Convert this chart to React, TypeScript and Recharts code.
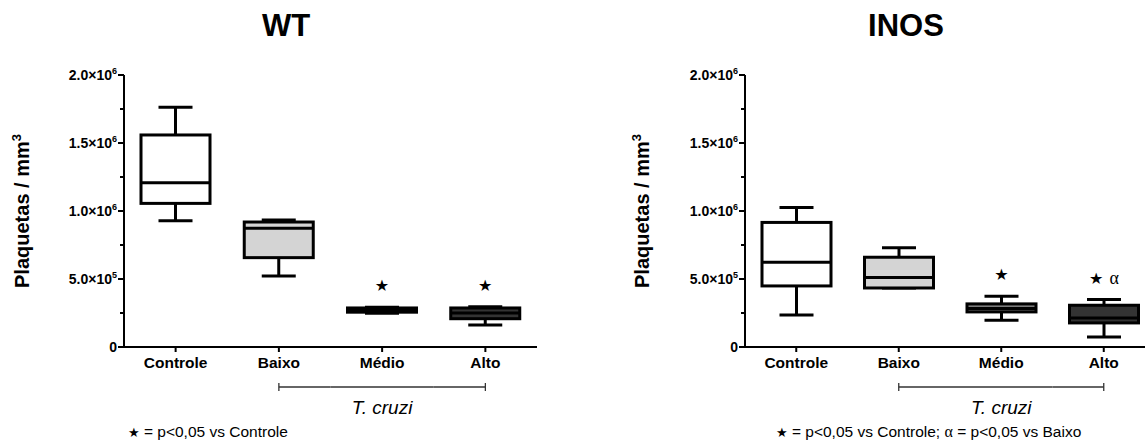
import { ComposedChart, Bar, XAxis, YAxis } from "recharts";

// Platelet counts per group, box plot summary (min, Q1, median, Q3, max)
const GROUPS = ["Controle", "Baixo", "Médio", "Alto"];
const BOX_FILLS = ["#ffffff", "#d4d4d4", "#7a7a7a", "#333333"];

const WT_MIN = [929000, 522000, 248000, 162000];
const WT_Q1 = [1056000, 657000, 256000, 208000];
const WT_MEDIAN = [1208000, 873000, 270000, 250000];
const WT_Q3 = [1559000, 919000, 287000, 287000];
const WT_MAX = [1763000, 934000, 292000, 296000];
const WT_MARKS = ["", "", "★", "★"];

const INOS_MIN = [236000, 434000, 196000, 74000];
const INOS_Q1 = [449000, 434000, 258000, 177000];
const INOS_MEDIAN = [623000, 511000, 283000, 213000];
const INOS_Q3 = [916000, 660000, 317000, 307000];
const INOS_MAX = [1026000, 729000, 373000, 349000];
const INOS_MARKS = ["", "", "★", "★ α"];

const Y_TICKS = [0, 250000, 500000, 750000, 1000000, 1250000, 1500000, 1750000, 2000000];
// [mantissa, exponent] for labelled ticks, null for minor ticks
const Y_TICK_LABELS: ([string, string] | null)[] = [
  ["0", ""], null, ["5.0×10", "5"], null, ["1.0×10", "6"], null, ["1.5×10", "6"], null, ["2.0×10", "6"],
];

const FONT = "'Liberation Sans', Arial, sans-serif";
const CHART_W = 560;
const CHART_H = 448;
const MARGIN_TOP = 75;
const X_AXIS_H = 30;
const MARGIN_BOTTOM = 71;

type Row = {
  group: string; min: number; q1: number; median: number; q3: number; max: number;
  fill: string; mark: string;
};

function buildRows(min: number[], q1: number[], med: number[], q3: number[], max: number[], marks: string[]): Row[] {
  return GROUPS.map((g, i) => ({
    group: g, min: min[i], q1: q1[i], median: med[i], q3: q3[i], max: max[i],
    fill: BOX_FILLS[i], mark: marks[i],
  }));
}

const wtRows = buildRows(WT_MIN, WT_Q1, WT_MEDIAN, WT_Q3, WT_MAX, WT_MARKS);
const inosRows = buildRows(INOS_MIN, INOS_Q1, INOS_MEDIAN, INOS_Q3, INOS_MAX, INOS_MARKS);

function BoxShape(props: any) {
  const { x, y, width, height, payload } = props;
  const top = Math.min(y, y + height);
  const h = Math.abs(height);
  const span = payload.max - payload.min || 1;
  const py = (v: number) => top + (h * (payload.max - v)) / span;
  const cx = x + width / 2;
  const cap = 17;
  const sw = 3;
  const yMax = py(payload.max);
  const yMin = py(payload.min);
  const yQ1 = py(payload.q1);
  const yQ3 = py(payload.q3);
  const yMed = py(payload.median);
  return (
    <g>
      <line x1={cx} x2={cx} y1={yMax} y2={yQ3} stroke="#000" strokeWidth={sw} />
      <line x1={cx} x2={cx} y1={yQ1} y2={yMin} stroke="#000" strokeWidth={sw} />
      <line x1={cx - cap} x2={cx + cap} y1={yMax} y2={yMax} stroke="#000" strokeWidth={sw} />
      <line x1={cx - cap} x2={cx + cap} y1={yMin} y2={yMin} stroke="#000" strokeWidth={sw} />
      <rect x={x} y={yQ3} width={width} height={yQ1 - yQ3} fill={payload.fill} stroke="#000" strokeWidth={sw} />
      <line x1={x} x2={x + width} y1={yMed} y2={yMed} stroke="#000" strokeWidth={sw} />
      {payload.mark && (
        <text x={cx} y={yMax - 22} textAnchor="middle" dominantBaseline="central" fontSize={16}>
          {payload.mark.split(" ").map((m: string, i: number) =>
            m === "α" ? (
              <tspan key={i} dx={6} fontFamily="'Liberation Serif', serif" fontSize={18}>{m}</tspan>
            ) : (
              <tspan key={i} fontFamily="'DejaVu Sans', sans-serif">{m}</tspan>
            )
          )}
        </text>
      )}
    </g>
  );
}

function ValueTick(props: any) {
  const { x, y, index } = props;
  const label = Y_TICK_LABELS[index];
  return (
    <g>
      <line x1={x - (label ? 6 : 4)} x2={x} y1={y} y2={y} stroke="#000" strokeWidth={2} />
      {label && (
        <text x={x - 7} y={y + 5} textAnchor="end" fontSize={14} fontWeight="bold" fontFamily={FONT}>
          {label[0]}
          {label[1] && <tspan dy={-6} fontSize={9}>{label[1]}</tspan>}
        </text>
      )}
    </g>
  );
}

function makeGroupTick(band: number) {
  return function GroupTick(props: any) {
    const { x, y, payload, index } = props;
    const by = y + 40;
    const br = { stroke: "#333", strokeWidth: 1.3 };
    return (
      <g>
        <line x1={x} x2={x} y1={y} y2={y + 5} stroke="#000" strokeWidth={2} />
        <text x={x} y={y + 21} textAnchor="middle" fontSize={15.5} fontWeight="bold" fontFamily={FONT}>
          {payload.value}
        </text>
        {index === 1 && (
          <g>
            <line x1={x} x2={x + band / 2} y1={by} y2={by} {...br} />
            <line x1={x} x2={x} y1={by - 4} y2={by + 4} {...br} />
          </g>
        )}
        {index === 2 && (
          <g>
            <line x1={x - band / 2} x2={x + band / 2} y1={by} y2={by} {...br} />
            <text x={x} y={by + 27} textAnchor="middle" fontSize={19} fontStyle="italic" fontFamily={FONT}>
              T. cruzi
            </text>
          </g>
        )}
        {index === 3 && (
          <g>
            <line x1={x - band / 2} x2={x} y1={by} y2={by} {...br} />
            <line x1={x} x2={x} y1={by - 4} y2={by + 4} {...br} />
          </g>
        )}
      </g>
    );
  };
}

function YTitle(props: any) {
  const { viewBox } = props;
  const cx = viewBox.x + 28.5;
  const cy = viewBox.y + viewBox.height / 2;
  return (
    <text x={cx} y={cy} transform={`rotate(-90 ${cx} ${cy})`} textAnchor="middle"
      fontSize={20} fontWeight="bold" fontFamily={FONT}>
      Plaquetas / mm<tspan dy={-8} fontSize={13}>3</tspan>
    </text>
  );
}

function Panel({ rows, left, yAxisW, marginRight }: { rows: Row[]; left: number; yAxisW: number; marginRight: number }) {
  const band = (CHART_W - yAxisW - marginRight) / GROUPS.length;
  return (
    <div style={{ position: "absolute", left, top: 0 }}>
      <ComposedChart width={CHART_W} height={CHART_H} data={rows}
        margin={{ top: MARGIN_TOP, right: marginRight, left: 0, bottom: MARGIN_BOTTOM }}>
        <XAxis dataKey="group" height={X_AXIS_H} axisLine={{ stroke: "#000", strokeWidth: 2 }}
          tickLine={false} tickSize={0} tickMargin={0} interval={0} tick={makeGroupTick(band)} />
        <YAxis width={yAxisW} domain={[0, 2000000]} ticks={Y_TICKS} interval={0}
          axisLine={{ stroke: "#000", strokeWidth: 2 }} tickLine={false} tickSize={0} tickMargin={0}
          tick={<ValueTick />} label={<YTitle />} />
        <Bar dataKey={(d: Row) => [d.min, d.max]} barSize={69} isAnimationActive={false}
          shape={(p: any) => <BoxShape {...p} />} />
      </ComposedChart>
    </div>
  );
}

export default function App() {
  const text = { position: "absolute" as const, fontFamily: FONT, color: "#000", whiteSpace: "nowrap" as const };
  return (
    <div style={{ position: "fixed", left: 0, top: 0, width: 1145, height: 448, overflow: "hidden", background: "#fff" }}>
      <Panel rows={wtRows} left={0} yAxisW={124} marginRight={23} />
      <Panel rows={inosRows} left={620} yAxisW={125} marginRight={25} />

      <div style={{ ...text, left: 286, top: 8, fontSize: 31, fontWeight: "bold", transform: "translateX(-50%)" }}>WT</div>
      <div style={{ ...text, left: 906, top: 8, fontSize: 31, fontWeight: "bold", transform: "translateX(-50%)" }}>INOS</div>

      <div style={{ ...text, left: 128, top: 423, fontSize: 15.5 }}>
        <span style={{ fontFamily: "'DejaVu Sans', sans-serif", fontSize: 13 }}>★</span> = p&lt;0,05 vs Controle
      </div>
      <div style={{ ...text, left: 776, top: 423, fontSize: 15.5 }}>
        <span style={{ fontFamily: "'DejaVu Sans', sans-serif", fontSize: 13 }}>★</span> = p&lt;0,05 vs Controle;{" "}
        <span style={{ fontFamily: "'Liberation Serif', serif", fontSize: 16 }}>α</span> = p&lt;0,05 vs Baixo
      </div>
    </div>
  );
}
